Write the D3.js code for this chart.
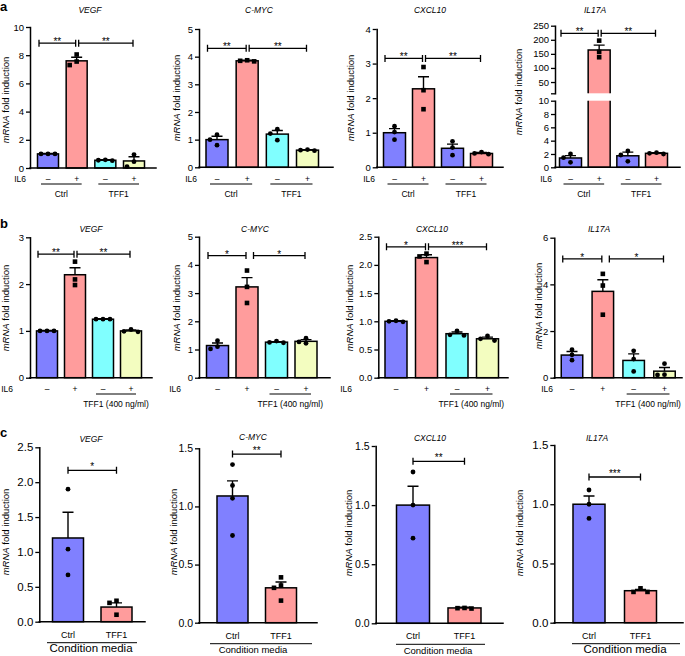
<!DOCTYPE html>
<html><head><meta charset="utf-8">
<script src="https://cdn.jsdelivr.net/npm/d3@7"></script>
<style>body{margin:0;background:#fff} svg{display:block}</style>
</head><body><svg id="c" width="685" height="656"></svg>
<script>
// ---------------- DATA ----------------
const genes = ["VEGF", "C-MYC", "CXCL10", "IL17A"];
const il6Signs = ["–", "+", "–", "+"];
const groupsA = ["Ctrl", "TFF1"];
const groupsB = [null, "TFF1 (400 ng/ml)"];
const groupsC = ["Ctrl", "TFF1"];
const groupC = "Condition media";
const panelLetters = ["a", "b", "c"];

// Panel a
const aMeans = [[1.0, 7.6, 0.55, 0.5], [1.0, 3.85, 1.2, 0.62], [1.0, 2.27, 0.55, 0.4], [1.4, 164, 1.73, 2.1]];
const aSem = [[0.03, 0.25, 0.03, 0.3], [0.12, 0.02, 0.13, 0.02], [0.12, 0.35, 0.12, 0.03], [0.35, 17, 0.55, 0.08]];
const aPoints = [
  [[1.0, 1.0, 1.0], [8.05, 7.3, 7.55], [0.55, 0.58, 0.52], [0.95, 0.45, 0.1]],
  [[1.18, 1.0, 0.8], [3.83, 3.85, 3.87], [1.38, 1.22, 0.98], [0.62, 0.64, 0.6]],
  [[1.19, 1.02, 0.8], [2.9, 2.23, 1.68], [0.75, 0.57, 0.35], [0.44, 0.4, 0.38]],
  [[2.0, 1.45, 0.75], [197, 157, 138], [2.45, 1.85, 0.9], [2.2, 2.1, 2.0]]
];
const aYMax = [10, 5, 4, 10];
const aTickStep = [2, 1, 1, 2];
const aBreakDomain = [10, 250];
const aBreakTicks = [10, 50, 100, 150, 200, 250];
const aSig = [["**", "**"], ["**", "**"], ["**", "**"], ["**", "**"]];
const aSigY = [8.85, 4.3, 3.15, 223];

// Panel b
const bMeans = [[1.0, 2.2, 1.25, 1.0], [1.14, 3.22, 1.26, 1.29], [1.0, 2.13, 0.78, 0.69], [0.97, 3.7, 0.74, 0.28]];
const bSem = [[0.01, 0.15, 0.01, 0.02], [0.09, 0.33, 0.02, 0.06], [0.01, 0.05, 0.03, 0.03], [0.15, 0.5, 0.28, 0.16]];
const bPoints = [
  [[1.0, 1.0, 1.0], [2.48, 2.1, 1.98], [1.25, 1.25, 1.25], [0.98, 1.03, 0.99]],
  [[1.02, 1.31, 1.1], [3.8, 3.22, 2.65], [1.3, 1.25, 1.24], [1.4, 1.27, 1.22]],
  [[0.99, 1.0, 1.01], [2.2, 2.15, 2.05], [0.83, 0.76, 0.75], [0.74, 0.69, 0.66]],
  [[1.2, 0.98, 0.75], [4.45, 3.95, 2.7], [1.15, 0.8, 0.27], [0.6, 0.12, 0.13]]
];
const bYMax = [3, 5, 2.5, 6];
const bTickStep = [1, 1, 0.5, 2];
const bSig = [["**", "**"], ["*", "*"], ["*", "***"], ["*", "*"]];
const bSigY = [2.64, 4.33, 2.32, 5.09];

// Panel c
const cMeans = [[1.2, 0.21], [1.09, 0.3], [1.0, 0.13], [1.0, 0.27]];
const cSem = [[0.37, 0.06], [0.13, 0.05], [0.16, 0.006], [0.07, 0.01]];
const cPoints = [
  [[1.9, 1.04, 0.67], [0.3, 0.27, 0.1]],
  [[1.36, 1.18, 1.07, 0.75], [0.39, 0.32, 0.3, 0.19]],
  [[1.28, 1.0, 0.72], [0.125, 0.13, 0.128]],
  [[1.12, 1.0, 0.88], [0.29, 0.26, 0.26]]
];
const cYMax = [2.5, 1.5, 1.5, 1.5];
const cTickStep = [0.5, 0.5, 0.5, 0.5];
const cSig = ["*", "**", "**", "***"];
const cSigY = [2.17, 1.45, 1.37, 1.23];

// ---------------- STYLE / LAYOUT ----------------
const BLUE = "#8080ff", SALMON = "#ff9c9c", CYAN = "#80ffff", YELLOW = "#f3fdc0";
const colorsA = [[BLUE, SALMON, CYAN, YELLOW], [BLUE, SALMON, CYAN, YELLOW], [BLUE, SALMON, BLUE, SALMON], [BLUE, SALMON, BLUE, SALMON]];
const colorsB = [BLUE, SALMON, CYAN, YELLOW];
const colorsC = [BLUE, SALMON];
const FONT = '"Liberation Sans", Arial, Helvetica, sans-serif';

const layoutA = [
  {ax: 30, y0: 168, yTop: 27, xEnd: 156, c: [48, 134], bw: 21, title: [90, 13.3], ylab: [9, 100], il6x: 26, double: true},
  {ax: 199, y0: 167.3, yTop: 29, xEnd: 333, c: [217, 307.5], bw: 22, title: [259, 13.3], ylab: [180, 98], il6x: 197, double: true},
  {ax: 376.7, y0: 167.3, yTop: 29, xEnd: 503, c: [394.5, 481.5], bw: 22, title: [430, 13.3], ylab: [354, 98], il6x: 375, double: true},
  {ax: 555, y0: 167.3, yTop: 100.7, xEnd: 680, c: [570.5, 656.5], bw: 22, title: [595, 13.3], ylab: [522, 92], il6x: 552, double: true, brk: [93.3, 25.7]}
];
const layoutB = [
  {ax: 30, y0: 377.7, yTop: 237.3, xEnd: 152, c: [47, 131], bw: 21, title: [91, 231.5], ylab: [9, 308], il6x: 13, double: true},
  {ax: 199, y0: 377.7, yTop: 236.7, xEnd: 330, c: [217.5, 306], bw: 22, title: [255, 231.5], ylab: [180, 308], il6x: 181, double: false},
  {ax: 378.3, y0: 377.7, yTop: 236.7, xEnd: 508, c: [396, 487.5], bw: 22, title: [432, 231.5], ylab: [353, 308], il6x: 352, double: true},
  {ax: 554.3, y0: 377.7, yTop: 237.7, xEnd: 682, c: [572, 664.5], bw: 21.5, title: [599, 232], ylab: [542, 306], il6x: 553, double: false}
];
const layoutC = [
  {ax: 39.3, y0: 621.7, yTop: 447.3, xEnd: 145, c: [68, 116.5], bw: 31, title: [91, 441.5], ylab: [9, 532], line: [47, 137], cmx: 91, fs: 11.5, cmfs: 11.5},
  {ax: 199, y0: 622.7, yTop: 448.3, xEnd: 317, c: [232.5, 281], bw: 31, title: [253, 439.5], ylab: [177, 532], line: [210, 312], cmx: 253, fs: 10.5, cmfs: 9.5},
  {ax: 375.7, y0: 623.3, yTop: 446, xEnd: 503, c: [413, 464.5], bw: 33, title: [430, 440.7], ylab: [352, 533], line: [396, 485], cmx: 438, fs: 10.5, cmfs: 9.5},
  {ax: 554.3, y0: 622.7, yTop: 445, xEnd: 683, c: [589, 640.5], bw: 32, title: [597, 440.7], ylab: [523, 533], line: [572, 680], cmx: 625, fs: 11.5, cmfs: 11.5}
];

// ---------------- DRAW ----------------
const svg = d3.select("#c").style("font-family", FONT);
svg.append("rect").attr("width", 685).attr("height", 656).attr("fill", "#fff");

function swarm(ys, spread) {
  const order = d3.range(ys.length).sort((a, b) => ys[a] - ys[b]);
  const placed = [], off = [];
  order.forEach(k => {
    for (const c of [0, -spread, spread, -2 * spread, 2 * spread]) {
      if (placed.every(p => Math.abs(p.y - ys[k]) >= 5 || Math.abs(p.o - c) >= spread - 0.1)) {
        off[k] = c; placed.push({y: ys[k], o: c}); break;
      }
    }
  });
  return off;
}

function styleAxis(sel, fs) {
  sel.attr("font-family", FONT).attr("font-size", fs);
  sel.select(".domain").attr("stroke", "#000").attr("stroke-width", 1.5).attr("stroke-linecap", "square");
  sel.selectAll(".tick line").attr("stroke", "#000").attr("stroke-width", 1.3);
  sel.selectAll(".tick text").attr("fill", "#000");
}

function bracket(g, x1, x2, yb, label, dy) {
  g.append("path")
    .attr("d", `M${x1},${yb - 3.5}V${yb + 3.5}M${x1},${yb}H${x2}M${x2},${yb - 3.5}V${yb + 3.5}`)
    .attr("stroke", "#000").attr("stroke-width", 1.3).attr("fill", "none");
  g.append("text").attr("x", (x1 + x2) / 2).attr("y", yb + dy).attr("text-anchor", "middle")
    .attr("font-size", 10).text(label);
}

function yLabel(g, pos) {
  const t = g.append("text").attr("transform", `translate(${pos[0]},${pos[1]}) rotate(-90)`)
    .attr("text-anchor", "middle").attr("font-size", 9.5);
  t.append("tspan").attr("font-style", "italic").text("mRNA");
  t.append("tspan").text(" fold induction");
}

function panel(P) {
  const L = P.L, g = svg.append("g");
  const n = P.means.length;
  const x = d3.scalePoint().domain(d3.range(n)).range(L.c);
  const y = d3.scaleLinear().domain([0, P.ymax]).range([L.y0, L.yTop]);
  const yu = P.brk ? d3.scaleLinear().domain(P.brk.domain).range(L.brk) : null;
  const yv = v => (yu && v > P.ymax) ? yu(v) : y(v);
  const hw = L.bw / 2;

  // bars
  P.means.forEach((m, i) => {
    const xl = x(i) - hw, xr = x(i) + hw;
    if (yu && m > P.ymax) {
      const b0 = yu(P.brk.domain[0]);
      g.append("rect").attr("x", xl).attr("y", y(P.ymax)).attr("width", L.bw).attr("height", L.y0 - y(P.ymax)).attr("fill", P.colors[i]);
      g.append("rect").attr("x", xl).attr("y", yu(m)).attr("width", L.bw).attr("height", b0 - yu(m)).attr("fill", P.colors[i]);
      g.append("path").attr("d", `M${xl},${L.y0}V${y(P.ymax)}M${xr},${y(P.ymax)}V${L.y0}H${xl}M${xl},${b0}V${yu(m)}H${xr}V${b0}`)
        .attr("fill", "none").attr("stroke", "#000").attr("stroke-width", 1.5);
    } else {
      g.append("rect").attr("x", xl).attr("y", y(m)).attr("width", L.bw).attr("height", L.y0 - y(m))
        .attr("fill", P.colors[i]).attr("stroke", "#000").attr("stroke-width", 1.5);
    }
  });

  // axes
  const ya = g.append("g").attr("transform", `translate(${L.ax},0)`)
    .call(d3.axisLeft(y).tickValues(P.ticks).tickFormat(P.fmt).tickSize(4).tickSizeOuter(0).tickPadding(2));
  styleAxis(ya, P.fs);
  if (yu) {
    const yb = g.append("g").attr("transform", `translate(${L.ax},0)`)
      .call(d3.axisLeft(yu).tickValues(P.brk.ticks).tickFormat(d => d === P.brk.domain[0] ? "" : d).tickSize(4).tickSizeOuter(0).tickPadding(2));
    styleAxis(yb, P.fs);
  }
  g.append("line").attr("x1", L.ax).attr("x2", L.xEnd).attr("y1", L.y0).attr("y2", L.y0)
    .attr("stroke", "#000").attr("stroke-width", 1.5).attr("stroke-linecap", "square");

  // error bars
  P.means.forEach((m, i) => {
    const yt = yv(m + P.sem[i]);
    g.append("path").attr("d", `M${x(i)},${yv(m)}V${yt}M${x(i) - 5.5},${yt}H${x(i) + 5.5}`)
      .attr("stroke", "#000").attr("stroke-width", 1.4).attr("fill", "none");
  });

  // points
  P.pts.forEach((arr, i) => {
    const ys = arr.map(yv);
    const off = swarm(ys, 7);
    arr.forEach((v, k) => {
      const cx = x(i) + off[k], cy = ys[k];
      if (P.square[i]) g.append("rect").attr("x", cx - 2.3).attr("y", cy - 2.3).attr("width", 4.6).attr("height", 4.6).attr("fill", "#000");
      else g.append("circle").attr("cx", cx).attr("cy", cy).attr("r", 2.4).attr("fill", "#000");
    });
  });

  // significance
  const ysig = yv(P.sigY);
  if (n === 4) {
    bracket(g, x(0) - hw + 1.5, x(1) - 1, ysig, P.sig[0], 2);
    bracket(g, x(1) + (L.double ? 2 : 6.5), x(3) - 1, ysig, P.sig[1], 2);
  } else {
    bracket(g, x(0), x(1), ysig, P.sig, 0);
  }

  // title & y label
  g.append("text").attr("x", L.title[0]).attr("y", L.title[1]).attr("text-anchor", "middle")
    .attr("font-size", 8.5).attr("font-style", "italic").text(P.title);
  yLabel(g, L.ylab);

  // x annotations
  if (n === 4) {
    const sy = P.signY;
    g.append("text").attr("x", L.il6x).attr("y", sy).attr("text-anchor", "end").attr("font-size", 8.5).text("IL6");
    il6Signs.forEach((s, i) => g.append("text").attr("x", x(i)).attr("y", sy).attr("text-anchor", "middle").attr("font-size", 8.5).text(s));
    P.groups.forEach((gr, j) => {
      if (!gr) return;
      const a = x(2 * j) - 7, b = x(2 * j + 1) + 5;
      g.append("line").attr("x1", a).attr("x2", b).attr("y1", sy + 2.5).attr("y2", sy + 2.5).attr("stroke", "#000").attr("stroke-width", 1);
      g.append("text").attr("x", (a + b) / 2).attr("y", sy + P.groupDy).attr("text-anchor", "middle").attr("font-size", 8.5).text(gr);
    });
  } else {
    groupsC.forEach((gr, i) => g.append("text").attr("x", x(i)).attr("y", L.y0 + 16).attr("text-anchor", "middle").attr("font-size", 9).text(gr));
    g.append("line").attr("x1", L.line[0]).attr("x2", L.line[1]).attr("y1", L.y0 + 21).attr("y2", L.y0 + 21).attr("stroke", "#000").attr("stroke-width", 1);
    g.append("text").attr("x", L.cmx).attr("y", L.y0 + 30.5).attr("text-anchor", "middle").attr("font-size", L.cmfs).text(groupC);
  }
}

const fmtInt = d3.format("d"), fmt1 = d3.format(".1f");
const tickVals = (max, step) => d3.range(0, max + 1e-9, step);

genes.forEach((gname, k) => {
  panel({
    title: gname, means: aMeans[k], sem: aSem[k], pts: aPoints[k], ymax: aYMax[k],
    ticks: tickVals(aYMax[k], aTickStep[k]), fmt: fmtInt, fs: 9.5,
    brk: k === 3 ? {domain: aBreakDomain, ticks: aBreakTicks} : null,
    sig: aSig[k], sigY: aSigY[k], L: layoutA[k], colors: colorsA[k],
    square: [false, true, false, false], signY: 181.5, groups: groupsA, groupDy: 15.5
  });
  panel({
    title: gname, means: bMeans[k], sem: bSem[k], pts: bPoints[k], ymax: bYMax[k],
    ticks: tickVals(bYMax[k], bTickStep[k]), fmt: bTickStep[k] < 1 ? fmt1 : fmtInt, fs: 9.5,
    brk: null, sig: bSig[k], sigY: bSigY[k], L: layoutB[k], colors: colorsB,
    square: [false, true, false, false], signY: 391.5, groups: groupsB, groupDy: 15
  });
  panel({
    title: gname, means: cMeans[k], sem: cSem[k], pts: cPoints[k], ymax: cYMax[k],
    ticks: tickVals(cYMax[k], cTickStep[k]), fmt: fmt1, fs: layoutC[k].fs,
    brk: null, sig: cSig[k], sigY: cSigY[k], L: layoutC[k], colors: colorsC,
    square: [false, true]
  });
});

// panel letters
[[0, 11], [0, 228], [0, 437]].forEach((p, i) =>
  svg.append("text").attr("x", p[0]).attr("y", p[1]).attr("font-size", 13).attr("font-weight", "bold").text(panelLetters[i]));
</script></body></html>
